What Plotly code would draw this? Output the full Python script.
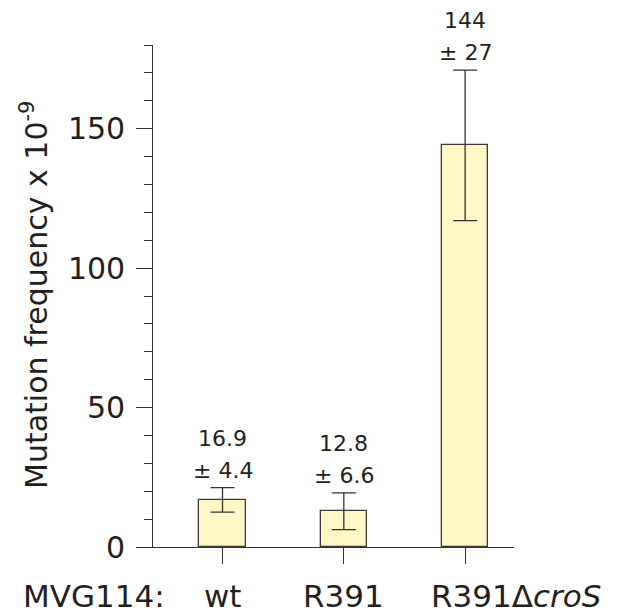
import plotly.graph_objects as go

# ---- data ----
categories = ["wt", "R391", "R391Δ<i>croS</i>"]
means = [16.9, 12.8, 144]
errors = [4.4, 6.6, 27]
mean_labels = ["16.9", "12.8", "144"]
err_labels = ["± 4.4", "± 6.6", "± 27"]
group_label = "MVG114:"
y_title = "Mutation frequency x 10<sup>-9</sup>"
y_major_ticks = [0, 50, 100, 150]

FONT = "DejaVu Sans"
TXT = "#231f20"
LINE = "#333333"

OFF = 8  # page body margin of the browser
W, H = 622 - OFF, 615 - OFF
ML = 137 - OFF
MT = 45 - OFF
MR = W - (514 - OFF)
MB = H - (547 - OFF)
pw = W - ML - MR
ph = H - MT - MB

def px_x(px):
    return (px - OFF - ML) / pw

def px_y(py):
    return (H - MB - (py - OFF)) / ph

xs = list(range(len(categories)))

fig = go.Figure()
fig.add_trace(go.Bar(
    x=xs, y=means, width=0.38,
    marker=dict(color="#fff8c6", line=dict(color="#3a3a3a", width=1.3)),
    error_y=dict(type="data", array=errors, color=LINE, thickness=1.3, width=12),
    showlegend=False, hoverinfo="skip",
))

annotations = []
# value labels above error bars
for i, (m, e) in enumerate(zip(means, errors)):
    annotations.append(dict(x=i, y=m + e, xref="x", yref="y", text=err_labels[i],
                            showarrow=False, yanchor="bottom", yshift=3,
                            font=dict(family=FONT, size=22, color=TXT)))
    annotations.append(dict(x=i, y=m + e, xref="x", yref="y", text=mean_labels[i],
                            showarrow=False, yanchor="bottom", yshift=35,
                            font=dict(family=FONT, size=22, color=TXT)))

# category labels
label_y = px_y(596)
for i, c in enumerate(categories):
    if i == len(categories) - 1:
        annotations.append(dict(x=i, y=label_y, xref="x", yref="paper", text=c,
                                showarrow=False, xanchor="left", xshift=-36, yanchor="middle",
                                font=dict(family=FONT, size=31, color=TXT)))
    else:
        annotations.append(dict(x=i, y=label_y, xref="x", yref="paper", text=c,
                                showarrow=False, xanchor="center", yanchor="middle",
                                font=dict(family=FONT, size=31, color=TXT)))
annotations.append(dict(x=px_x(21), y=label_y, xref="paper", yref="paper", text=group_label,
                        showarrow=False, xanchor="left", yanchor="middle",
                        font=dict(family=FONT, size=31, color=TXT)))
# y title
annotations.append(dict(x=px_x(34), y=px_y(295), xref="paper", yref="paper", text=y_title,
                        showarrow=False, textangle=-90, xanchor="center", yanchor="middle",
                        font=dict(family=FONT, size=30, color=TXT)))

fig.update_layout(
    width=W, height=H,
    margin=dict(l=ML, r=MR, t=MT, b=MB, pad=0),
    paper_bgcolor="white", plot_bgcolor="white",
    bargap=0,
    annotations=annotations,
    xaxis=dict(range=[-0.705, 2.403], tickvals=xs, showticklabels=False,
               ticks="outside", ticklen=16, tickwidth=1.3, tickcolor=LINE,
               showline=True, linecolor=LINE, linewidth=1.3,
               showgrid=False, zeroline=False, fixedrange=True),
    yaxis=dict(range=[0, 180], anchor="free", position=px_x(152.3),
               tickvals=y_major_ticks, ticks="outside", ticklen=16, tickwidth=1.3,
               tickcolor=LINE, ticklabelstandoff=5,
               minor=dict(dtick=10, tick0=0, ticks="outside", ticklen=8,
                          tickwidth=1.3, tickcolor=LINE, showgrid=False),
               tickfont=dict(family=FONT, size=30, color=TXT),
               showline=True, linecolor=LINE, linewidth=1.3,
               showgrid=False, zeroline=False, fixedrange=True),
)

fig.write_html("out.html")
